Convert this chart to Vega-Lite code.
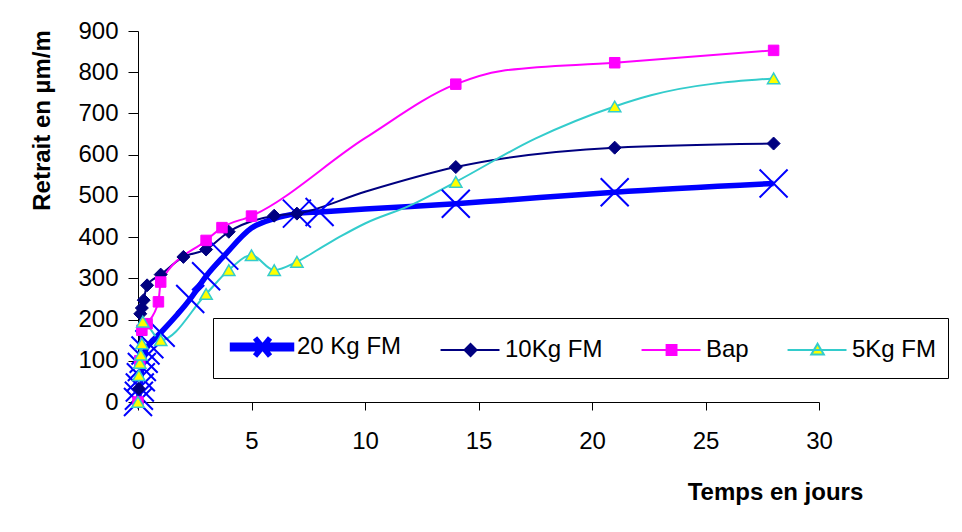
{
  "$schema": "https://vega.github.io/schema/vega-lite/v6.json",
  "width": 681,
  "height": 371,
  "autosize": {"type": "none"},
  "padding": {"left": 138, "top": 31, "right": 143, "bottom": 130},
  "background": "white",
  "config": {
    "view": {"stroke": null},
    "font": "Liberation Sans",
    "axis": {"grid": false, "domainColor": "black", "tickColor": "black", "labelColor": "black", "titleColor": "black", "labelFont": "Liberation Sans", "titleFont": "Liberation Sans", "labelFontSize": 24, "titleFontSize": 24, "titleFontWeight": "bold", "domainWidth": 1, "tickWidth": 1}
  },
  "data": {"values": [
    {"s": "20 Kg FM", "t": 0, "v": 0, "m": true},
    {"s": "20 Kg FM", "t": 0.04, "v": 15, "m": true},
    {"s": "20 Kg FM", "t": 0.08, "v": 35, "m": true},
    {"s": "20 Kg FM", "t": 0.125, "v": 60, "m": true},
    {"s": "20 Kg FM", "t": 0.17, "v": 85, "m": true},
    {"s": "20 Kg FM", "t": 0.25, "v": 105, "m": true},
    {"s": "20 Kg FM", "t": 0.33, "v": 125, "m": true},
    {"s": "20 Kg FM", "t": 0.5, "v": 140, "m": true},
    {"s": "20 Kg FM", "t": 1, "v": 168, "m": true},
    {"s": "20 Kg FM", "t": 2.3, "v": 250, "m": true},
    {"s": "20 Kg FM", "t": 3, "v": 305, "m": true},
    {"s": "20 Kg FM", "t": 3.8, "v": 355, "m": true},
    {"s": "20 Kg FM", "t": 5, "v": 422, "m": false},
    {"s": "20 Kg FM", "t": 6, "v": 445, "m": false},
    {"s": "20 Kg FM", "t": 7, "v": 457, "m": true},
    {"s": "20 Kg FM", "t": 8, "v": 461, "m": true},
    {"s": "20 Kg FM", "t": 10, "v": 468, "m": false},
    {"s": "20 Kg FM", "t": 12, "v": 474, "m": false},
    {"s": "20 Kg FM", "t": 14, "v": 481, "m": true},
    {"s": "20 Kg FM", "t": 16, "v": 489, "m": false},
    {"s": "20 Kg FM", "t": 21, "v": 509, "m": true},
    {"s": "20 Kg FM", "t": 28, "v": 530, "m": true},

    {"s": "10Kg FM", "t": 0, "v": 0, "m": true},
    {"s": "10Kg FM", "t": 0.04, "v": 32, "m": true},
    {"s": "10Kg FM", "t": 0.1, "v": 214, "m": true},
    {"s": "10Kg FM", "t": 0.17, "v": 228, "m": true},
    {"s": "10Kg FM", "t": 0.25, "v": 247, "m": true},
    {"s": "10Kg FM", "t": 0.4, "v": 283, "m": true},
    {"s": "10Kg FM", "t": 1, "v": 309, "m": true},
    {"s": "10Kg FM", "t": 2, "v": 352, "m": true},
    {"s": "10Kg FM", "t": 3, "v": 370, "m": true},
    {"s": "10Kg FM", "t": 4, "v": 413, "m": true},
    {"s": "10Kg FM", "t": 6, "v": 452, "m": true},
    {"s": "10Kg FM", "t": 7, "v": 457, "m": true},
    {"s": "10Kg FM", "t": 10, "v": 510, "m": false},
    {"s": "10Kg FM", "t": 14, "v": 570, "m": true},
    {"s": "10Kg FM", "t": 21, "v": 617, "m": true},
    {"s": "10Kg FM", "t": 28, "v": 627, "m": true},

    {"s": "Bap", "t": 0, "v": 0, "m": true},
    {"s": "Bap", "t": 0.08, "v": 100, "m": true},
    {"s": "Bap", "t": 0.17, "v": 174, "m": true},
    {"s": "Bap", "t": 0.4, "v": 190, "m": true},
    {"s": "Bap", "t": 0.9, "v": 243, "m": true},
    {"s": "Bap", "t": 1, "v": 291, "m": true},
    {"s": "Bap", "t": 3, "v": 392, "m": true},
    {"s": "Bap", "t": 3.7, "v": 423, "m": true},
    {"s": "Bap", "t": 5, "v": 451, "m": true},
    {"s": "Bap", "t": 10, "v": 640, "m": false},
    {"s": "Bap", "t": 14, "v": 771, "m": true},
    {"s": "Bap", "t": 16, "v": 803, "m": false},
    {"s": "Bap", "t": 21, "v": 823, "m": true},
    {"s": "Bap", "t": 28, "v": 853, "m": true},

    {"s": "5Kg FM", "t": 0, "v": 0, "m": true},
    {"s": "5Kg FM", "t": 0.04, "v": 65, "m": true},
    {"s": "5Kg FM", "t": 0.08, "v": 95, "m": true},
    {"s": "5Kg FM", "t": 0.125, "v": 115, "m": true},
    {"s": "5Kg FM", "t": 0.17, "v": 142, "m": true},
    {"s": "5Kg FM", "t": 0.21, "v": 195, "m": true},
    {"s": "5Kg FM", "t": 1, "v": 150, "m": true},
    {"s": "5Kg FM", "t": 3, "v": 262, "m": true},
    {"s": "5Kg FM", "t": 4, "v": 320, "m": true},
    {"s": "5Kg FM", "t": 5, "v": 356, "m": true},
    {"s": "5Kg FM", "t": 6, "v": 320, "m": true},
    {"s": "5Kg FM", "t": 7, "v": 340, "m": true},
    {"s": "5Kg FM", "t": 8, "v": 372, "m": false},
    {"s": "5Kg FM", "t": 9, "v": 404, "m": false},
    {"s": "5Kg FM", "t": 10, "v": 433, "m": false},
    {"s": "5Kg FM", "t": 12, "v": 477, "m": false},
    {"s": "5Kg FM", "t": 14, "v": 534, "m": true},
    {"s": "5Kg FM", "t": 17.5, "v": 639, "m": false},
    {"s": "5Kg FM", "t": 21, "v": 717, "m": true},
    {"s": "5Kg FM", "t": 22.6, "v": 744, "m": false},
    {"s": "5Kg FM", "t": 28, "v": 785, "m": true}
  ]},
  "encoding": {
    "x": {"field": "t", "type": "quantitative",
      "scale": {"domain": [0, 30], "nice": false, "zero": false},
      "axis": {"values": [0, 5, 10, 15, 20, 25, 30], "tickSize": 8, "labelPadding": 19, "labelFlush": false, "labelOverlap": false,
        "title": "Temps en jours", "titleX": 637, "titleY": 97, "titleAlign": "center", "titleAnchor": null, "titleBaseline": "alphabetic"}},
    "y": {"field": "v", "type": "quantitative",
      "scale": {"domain": [0, 900], "nice": false},
      "axis": {"values": [0, 100, 200, 300, 400, 500, 600, 700, 800, 900], "tickSize": 10, "labelPadding": 10, "labelFlush": false, "labelOverlap": false,
        "title": "Retrait en µm/m", "titleAngle": -90, "titleX": -89, "titleY": 89, "titleAlign": "center", "titleAnchor": null, "titleBaseline": "alphabetic"}}
  },
  "layer": [
    {
      "mark": {"type": "line", "interpolate": "monotone", "clip": false},
      "encoding": {
        "stroke": {"field": "s", "type": "nominal",
          "scale": {"domain": ["20 Kg FM", "10Kg FM", "Bap", "5Kg FM"], "range": ["#0000FF", "#000080", "#FF00FF", "#33CCCC"]},
          "legend": {
            "orient": "none", "legendX": 75, "legendY": 287, "direction": "horizontal", "columns": 4, "columnPadding": 30,
            "padding": 11, "strokeColor": "black", "fillColor": "white", "title": null,
            "labelFont": "Liberation Sans", "labelFontSize": 24, "labelColor": "black", "labelOffset": 37, "labelLimit": 300,
            "symbolSize": 900, "symbolStrokeWidth": 2,
            "encode": {"symbols": {"update": {
              "shape": {"signal": "datum.value === '20 Kg FM' ? 'M-0.63,-0.12H3.3V0.12H-0.63Z M0.87,-0.6L1.87,0.6 M0.87,0.6L1.87,-0.6' : datum.value === '10Kg FM' ? 'M-0.63,0H3.3 M1.37,-0.4L1.77,0L1.37,0.4L0.97,0Z' : datum.value === 'Bap' ? 'M-0.63,0H3.3 M1.04,-0.33H1.7V0.33H1.04Z' : 'M-0.63,0H3.3 M1.37,-0.42L1.79,0.3L0.95,0.3Z'"},
              "fill": {"signal": "datum.value === '5Kg FM' ? '#FFFF00' : datum.value === '20 Kg FM' ? '#0000FF' : datum.value === '10Kg FM' ? '#000080' : '#FF00FF'"},
              "stroke": {"signal": "datum.value === '5Kg FM' ? '#33CCCC' : datum.value === '20 Kg FM' ? '#0000FF' : datum.value === '10Kg FM' ? '#000080' : '#FF00FF'"},
              "strokeWidth": {"value": 2},
              "opacity": {"value": 1},
              "fillOpacity": {"value": 1},
              "strokeOpacity": {"value": 1}
            }}}
          }},
        "strokeWidth": {"field": "s", "type": "nominal",
          "scale": {"type": "ordinal", "domain": ["20 Kg FM", "10Kg FM", "Bap", "5Kg FM"], "range": [5.5, 2, 2, 2]},
          "legend": null}
      }
    },
    {
      "transform": [{"filter": "datum.m"}],
      "mark": {"type": "point", "filled": true, "opacity": 1, "clip": false},
      "encoding": {
        "shape": {"field": "s", "type": "nominal",
          "scale": {"domain": ["20 Kg FM", "10Kg FM", "Bap", "5Kg FM"], "range": ["M-1,-1L1,1M-1,1L1,-1", "diamond", "square", "triangle-up"]},
          "legend": null},
        "size": {"field": "s", "type": "nominal",
          "scale": {"type": "ordinal", "domain": ["20 Kg FM", "10Kg FM", "Bap", "5Kg FM"], "range": [784, 169, 110, 150]},
          "legend": null},
        "fill": {"field": "s", "type": "nominal",
          "scale": {"domain": ["20 Kg FM", "10Kg FM", "Bap", "5Kg FM"], "range": ["#0000FF", "#000080", "#FF00FF", "#FFFF00"]},
          "legend": null},
        "stroke": {"field": "s", "type": "nominal",
          "scale": {"domain": ["20 Kg FM", "10Kg FM", "Bap", "5Kg FM"], "range": ["#0000FF", "#000080", "#FF00FF", "#33CCCC"]},
          "legend": null},
        "strokeWidth": {"field": "s", "type": "nominal",
          "scale": {"type": "ordinal", "domain": ["20 Kg FM", "10Kg FM", "Bap", "5Kg FM"], "range": [2, 1, 1, 1.5]},
          "legend": null}
      }
    }
  ],
  "resolve": {"scale": {"stroke": "independent", "strokeWidth": "independent"}, "legend": {"stroke": "independent", "strokeWidth": "independent"}}
}
